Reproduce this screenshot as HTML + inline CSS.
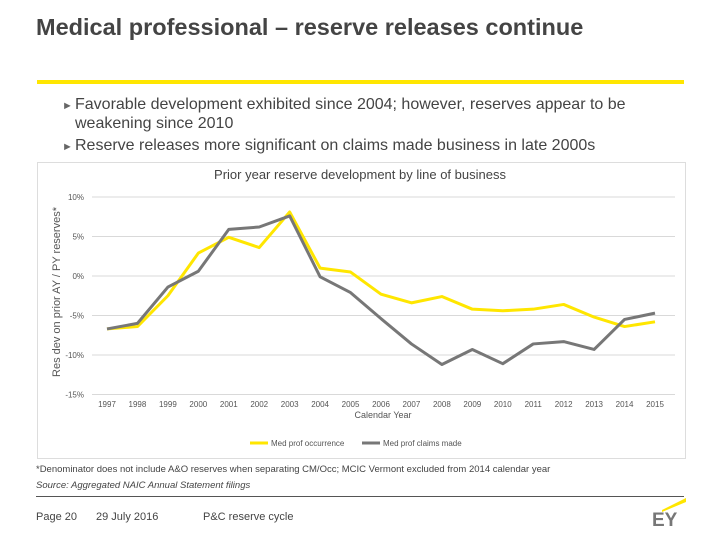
<!DOCTYPE html>
<html><head><meta charset="utf-8"><style>
body{margin:0;width:720px;height:540px;background:#fff;font-family:"Liberation Sans",sans-serif;position:relative;overflow:hidden;color:#333}
.a{position:absolute;white-space:nowrap}
</style></head><body>
<div class="a" style="left:36px;top:14px;font-size:23.5px;font-weight:bold;color:#444">Medical professional – reserve releases continue</div>
<div class="a" style="left:37px;top:80px;width:647px;height:4px;background:#ffe600"></div>
<div class="a" style="left:62px;top:95px;font-size:16px;color:#444;line-height:19px"><span style="color:#666;font-size:11px">►</span><span style="position:absolute;left:13px">Favorable development exhibited since 2004; however, reserves appear to be<br>weakening since 2010</span></div>
<div class="a" style="left:62px;top:137px;font-size:16px;color:#444"><span style="color:#666;font-size:11px">►</span><span style="position:absolute;left:13px">Reserve releases more significant on claims made business in late 2000s</span></div>
<div class="a" style="left:37px;top:162px;width:647px;height:295px;border:1px solid #ddd"></div>
<div class="a" style="left:0;width:720px;text-align:center;top:167px;font-size:13px;color:#444">Prior year reserve development by line of business</div>
<svg class="a" style="left:0;top:0" width="720" height="540" id="ch"></svg>
<div class="a" style="left:36px;top:464px;font-size:9.5px;color:#444">*Denominator does not include A&amp;O reserves when separating CM/Occ; MCIC Vermont excluded from 2014 calendar year</div>
<div class="a" style="left:36px;top:480px;font-size:9.5px;font-style:italic;color:#444">Source: Aggregated NAIC Annual Statement filings</div>
<div class="a" style="left:36px;top:496px;width:648px;height:1px;background:#555"></div>
<div class="a" style="left:36px;top:511px;font-size:11px;color:#444">Page 20</div>
<div class="a" style="left:96px;top:511px;font-size:11px;color:#444">29 July 2016</div>
<div class="a" style="left:203px;top:511px;font-size:11px;color:#444">P&amp;C reserve cycle</div>
<div class="a" style="left:652px;top:510px;font-size:19px;font-weight:bold;color:#777">EY</div>
<svg class="a" style="left:650px;top:496px" width="40" height="18"><polygon points="12,14 36,2 36,6 12,16" fill="#ffe600"/></svg>
<script>
const years=["1997","1998","1999","2000","2001","2002","2003","2004","2005","2006","2007","2008","2009","2010","2011","2012","2013","2014","2015"];
const occurrence=[-6.7,-6.4,-2.5,2.9,4.9,3.6,8.1,1.0,0.5,-2.3,-3.4,-2.6,-4.2,-4.4,-4.2,-3.6,-5.2,-6.4,-5.8];
const claimsMade=[-6.7,-6.0,-1.4,0.6,5.9,6.2,7.6,-0.1,-2.1,-5.4,-8.6,-11.2,-9.3,-11.1,-8.6,-8.3,-9.3,-5.5,-4.7];
const yTicks=[10,5,0,-5,-10,-15];
const yLabels=["10%","5%","0%","-5%","-10%","-15%"];
const svg=document.getElementById('ch');const NS='http://www.w3.org/2000/svg';
const X0=107,XS=(655-107)/18;const x=i=>X0+i*XS;const y=v=>276-v*7.9;
function mk(t,a,txt){const e=document.createElementNS(NS,t);for(const k in a)e.setAttribute(k,a[k]);if(txt!=null)e.textContent=txt;svg.appendChild(e);return e;}
yTicks.forEach((v,i)=>{
 const g=mk('line',{x1:92,x2:675,y1:y(v),y2:y(v),stroke:'#d9d9d9','stroke-width':1});
 
 
 const t=mk('text',{x:84,y:y(v)+3,'font-size':8,fill:'#555','text-anchor':'end','font-family':'Liberation Sans'},yLabels[i]);
 
 
});
years.forEach((yr,i)=>{
 const t=mk('text',{x:x(i),y:407,'font-size':8,fill:'#555','text-anchor':'middle','font-family':'Liberation Sans'},yr);
 
 
});
const xt=mk('text',{x:383,y:418,'font-size':9,fill:'#555','text-anchor':'middle','font-family':'Liberation Sans'},'Calendar Year');


const yt=mk('text',{x:0,y:0,'font-size':11,fill:'#555','text-anchor':'middle','font-family':'Liberation Sans',transform:'translate(60,292) rotate(-90)'},'Res dev on prior AY / PY reserves*');


function line(d,c,n){const p=mk('polyline',{points:d.map((v,i)=>x(i)+','+y(v)).join(' '),fill:'none',stroke:c,'stroke-width':3,'stroke-linejoin':'round'});
 
 }
line(occurrence,'#ffe600','line-med-prof-occurrence');
line(claimsMade,'#777','line-med-prof-claims-made');
[[250,'#ffe600','Med prof occurrence','legend-occurrence'],[362,'#777','Med prof claims made','legend-claims-made']].forEach(l=>{
 const r=mk('line',{x1:l[0],x2:l[0]+18,y1:443,y2:443,stroke:l[1],'stroke-width':3});
 
 
 const t=mk('text',{x:l[0]+21,y:446,'font-size':8,fill:'#555','font-family':'Liberation Sans'},l[2]);
 
 
});
</script>
</body></html>
